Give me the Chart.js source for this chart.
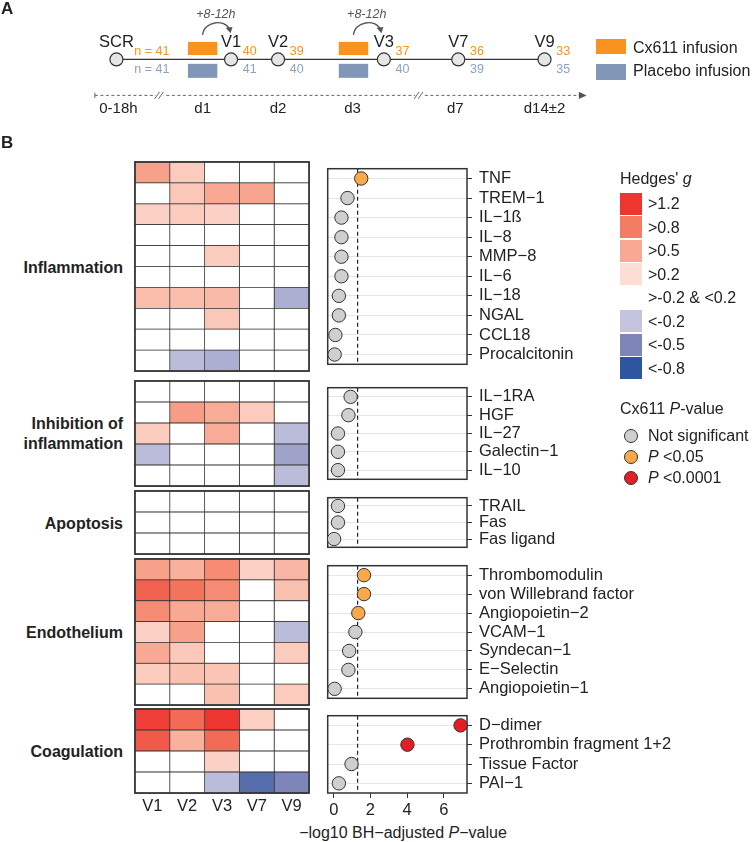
<!DOCTYPE html>
<html lang="en">
<head>
<meta charset="UTF-8">
<title>Cx611 biomarkers</title>
<script src="https://cdn.jsdelivr.net/npm/chart.js"></script>
<style>
    body { margin: 0; background: #fff; font-family: "Liberation Sans", Arial, sans-serif; color: #222; }
    #page { position: relative; width: 754px; height: 842px; overflow: hidden; }
    #page canvas { position: absolute; }
    .txt { position: absolute; white-space: nowrap; font-size: 16px; line-height: 18px; }
    .sw { position: absolute; }
    .dot { position: absolute; width: 12px; height: 12px; border: 1px solid #333; border-radius: 50%; }
</style>
</head>
<body>
<div id="page"></div>
<script>
// ---- panel A: study timeline ----
const timelineVisits = ['SCR', 'V1', 'V2', 'V3', 'V7', 'V9'];
const nCx611 = [41, 40, 39, 37, 36, 33];
const nPlacebo = [41, 41, 40, 40, 39, 35];
const studyDays = ['0-18h', 'd1', 'd2', 'd3', 'd7', 'd14±2'];

// ---- panel B: Hedges' g per visit (V1, V2, V3, V7, V9) and -log10 adjusted P ----
const visits = ['V1', 'V2', 'V3', 'V7', 'V9'];

const inflamLabels = ['TNF', 'TREM−1', 'IL−1ß', 'IL−8', 'MMP−8', 'IL−6', 'IL−18', 'NGAL', 'CCL18', 'Procalcitonin'];
const inflamG = [
    [0.55, 0.3, 0, 0, 0],
    [0, 0.33, 0.5, 0.52, 0],
    [0.27, 0.3, 0.27, 0, 0],
    [0, 0, 0, 0, 0],
    [0, 0, 0.3, 0, 0],
    [0, 0, 0, 0, 0],
    [0.38, 0.38, 0.4, 0, -0.3],
    [0, 0, 0.33, 0, 0],
    [0, 0, 0, 0, 0],
    [0, -0.24, -0.3, 0, 0]
];
const inflamP = [1.5, 0.75, 0.42, 0.42, 0.42, 0.42, 0.28, 0.28, 0.09, 0.05];

const inhibLabels = ['IL−1RA', 'HGF', 'IL−27', 'Galectin−1', 'IL−10'];
const inhibG = [
    [0, 0, 0, 0, 0],
    [0, 0.58, 0.48, 0.3, 0],
    [0.3, 0, 0.48, 0, -0.24],
    [-0.24, 0, 0, 0, -0.36],
    [0, 0, 0, 0, -0.24]
];
const inhibP = [0.92, 0.8, 0.23, 0.23, 0.23];

const apopLabels = ['TRAIL', 'Fas', 'Fas ligand'];
const apopG = [
    [0, 0, 0, 0, 0],
    [0, 0, 0, 0, 0],
    [0, 0, 0, 0, 0]
];
const apopP = [0.23, 0.23, 0.02];

const endoLabels = ['Thrombomodulin', 'von Willebrand factor', 'Angiopoietin−2', 'VCAM−1', 'Syndecan−1', 'E−Selectin', 'Angiopoietin−1'];
const endoG = [
    [0.55, 0.45, 0.7, 0.27, 0.42],
    [0.95, 0.85, 0.7, 0, 0.36],
    [0.7, 0.5, 0.48, 0, 0],
    [0.27, 0.55, 0, 0, -0.24],
    [0.5, 0.32, 0, 0, 0.3],
    [0.3, 0.36, 0.34, 0, 0],
    [0, 0, 0.36, 0, 0.3]
];
const endoP = [1.65, 1.65, 1.34, 1.18, 0.84, 0.8, 0.05];

const coagLabels = ['D−dimer', 'Prothrombin fragment 1+2', 'Tissue Factor', 'PAI−1'];
const coagG = [
    [1.15, 0.9, 1.25, 0.28, 0],
    [1.0, 0.45, 0.9, 0, 0],
    [0, 0, 0.27, 0, 0],
    [0, 0, -0.24, -0.65, -0.5]
];
const coagP = [6.92, 4.02, 0.97, 0.28];

const groups = [
    { name: 'Inflammation', labels: inflamLabels, g: inflamG, p: inflamP },
    { name: 'Inhibition of<br>inflammation', labels: inhibLabels, g: inhibG, p: inhibP },
    { name: 'Apoptosis', labels: apopLabels, g: apopG, p: apopP },
    { name: 'Endothelium', labels: endoLabels, g: endoG, p: endoP },
    { name: 'Coagulation', labels: coagLabels, g: coagG, p: coagP }
];

// layout
const visitPos = [111, 228, 276, 384, 460, 548];
const dayPos = [113, 199, 276, 352, 457, 548];
const infusionPos = [[184, 214], [338, 368]];
const groupTop = [162, 381, 491, 559, 709];
const groupH = [209, 105, 63, 146, 84];

const ORANGE = '#F7931E', BLUE = '#8197B7';
const FONT = '"Liberation Sans", Arial, sans-serif';
Chart.defaults.font.family = FONT;
Chart.defaults.color = '#222';

const page = document.getElementById('page');

function addCanvas(left, top, w, h) {
    const c = document.createElement('canvas');
    c.width = w; c.height = h;
    c.style.left = left + 'px'; c.style.top = top + 'px';
    c.style.width = w + 'px'; c.style.height = h + 'px';
    page.appendChild(c);
    return c;
}

function addText(html, x, cy, align, extra) {
    const d = document.createElement('div');
    d.className = 'txt';
    d.innerHTML = html;
    d.style.top = (cy - 9) + 'px';
    if (align === 'right') d.style.right = (754 - x) + 'px';
    else if (align === 'center') { d.style.left = x + 'px'; d.style.transform = 'translateX(-50%)'; }
    else d.style.left = x + 'px';
    if (extra) d.style.cssText += extra;
    page.appendChild(d);
    return d;
}

function addBox(cls, x, y, w, h, color) {
    const d = document.createElement('div');
    d.className = cls;
    d.style.left = x + 'px'; d.style.top = y + 'px';
    d.style.width = w + 'px'; d.style.height = h + 'px';
    d.style.background = color;
    page.appendChild(d);
}

// colour ramp of the Hedges' g bins
const posStops = [[0.2, [253, 222, 212]], [0.5, [248, 168, 147]], [0.8, [244, 124, 99]], [1.2, [238, 53, 48]]];
const negStops = [[0.2, [196, 196, 222]], [0.5, [126, 134, 185]], [0.8, [47, 85, 160]]];
function cellColor(g) {
    const a = Math.abs(g);
    if (a < 0.2) return '#ffffff';
    const s = g > 0 ? posStops : negStops;
    let c = s[s.length - 1][1];
    for (let i = 0; i < s.length - 1; i++) {
        if (a >= s[i][0] && a < s[i + 1][0]) {
            const t = (a - s[i][0]) / (s[i + 1][0] - s[i][0]);
            c = s[i][1].map((v, k) => Math.round(v + (s[i + 1][1][k] - v) * t));
            break;
        }
    }
    return 'rgb(' + c.join(',') + ')';
}
function dotColor(v) {
    if (v >= 4) return '#E31E24';
    if (v >= 1.301) return '#FAA94A';
    return '#CFCFCF';
}

// ---------- panel A ----------
const timelinePlugin = {
    id: 'timeline',
    afterDatasetsDraw(chart) {
        const { ctx, scales: { x, y } } = chart;
        const px = v => x.getPixelForValue(v), py = v => y.getPixelForValue(v);
        ctx.save();
        // visit names
        ctx.font = '16.5px ' + FONT; ctx.fillStyle = '#222'; ctx.textAlign = 'center'; ctx.textBaseline = 'alphabetic';
        timelineVisits.forEach((v, i) => ctx.fillText(v, px(visitPos[i]), py(45)));
        // n per arm
        ctx.font = '12.5px ' + FONT;
        timelineVisits.forEach((v, i) => {
            const first = i === 0;
            ctx.textAlign = first ? 'right' : 'left';
            const xx = first ? px(165) : px(visitPos[i] + 12);
            ctx.fillStyle = ORANGE;
            ctx.fillText(first ? 'n = ' + nCx611[i] : String(nCx611[i]), xx, py(54));
            ctx.fillStyle = '#8DA1C3';
            ctx.fillText(first ? 'n = ' + nPlacebo[i] : String(nPlacebo[i]), xx, py(75));
        });
        // infusion boxes and +8-12h arrows
        infusionPos.forEach(([a, b]) => {
            ctx.fillStyle = ORANGE;
            ctx.fillRect(px(a), py(39), px(b) - px(a), py(54) - py(39));
            ctx.fillStyle = BLUE;
            ctx.fillRect(px(a), py(64), px(b) - px(a), py(80) - py(64));
            const c = (a + b) / 2;
            ctx.strokeStyle = '#555'; ctx.lineWidth = 1.4;
            ctx.beginPath();
            ctx.moveTo(px(c), py(31));
            ctx.bezierCurveTo(px(c + 1), py(15), px(c + 23), py(13), px(c + 27), py(24));
            ctx.stroke();
            ctx.fillStyle = '#555';
            ctx.beginPath();
            ctx.moveTo(px(c + 23.5), py(23)); ctx.lineTo(px(c + 30.5), py(22)); ctx.lineTo(px(c + 28.5), py(29));
            ctx.closePath(); ctx.fill();
            ctx.font = 'italic 12.5px ' + FONT; ctx.textAlign = 'center'; ctx.textBaseline = 'middle';
            ctx.fillText('+8-12h', px(c + 13.5), py(8));
        });
        // time axis
        ctx.strokeStyle = '#666'; ctx.lineWidth = 1;
        ctx.setLineDash([3, 2.5]);
        ctx.beginPath(); ctx.moveTo(px(89), py(100)); ctx.lineTo(px(584), py(100)); ctx.stroke();
        ctx.setLineDash([]);
        ctx.beginPath(); ctx.moveTo(px(89), py(97)); ctx.lineTo(px(89), py(103)); ctx.stroke();
        ctx.fillStyle = '#555';
        ctx.beginPath(); ctx.moveTo(px(583), py(96)); ctx.lineTo(px(591), py(100)); ctx.lineTo(px(583), py(104)); ctx.closePath(); ctx.fill();
        [155, 420].forEach(b => {
            ctx.fillStyle = '#fff'; ctx.fillRect(px(b - 4), py(98), 8, 4);
            ctx.beginPath();
            ctx.moveTo(px(b - 5), py(104)); ctx.lineTo(px(b), py(96));
            ctx.moveTo(px(b - 1), py(104)); ctx.lineTo(px(b + 4), py(96));
            ctx.stroke();
        });
        ctx.font = '15px ' + FONT; ctx.fillStyle = '#222'; ctx.textAlign = 'center'; ctx.textBaseline = 'alphabetic';
        studyDays.forEach((d, i) => ctx.fillText(d, px(dayPos[i]), py(120)));
        ctx.restore();
    }
};

new Chart(addCanvas(0, 0, 754, 125), {
    type: 'scatter',
    data: {
        datasets: [{
            data: visitPos.map(v => ({ x: v, y: 59 })),
            showLine: true,
            borderColor: '#333',
            borderWidth: 1.2,
            pointRadius: 6.5,
            pointBackgroundColor: '#e6e6e6',
            pointBorderColor: '#333',
            pointBorderWidth: 1.2,
            clip: false
        }]
    },
    options: {
        responsive: false, animation: false, events: [],
        layout: { padding: 0 },
        plugins: { legend: { display: false }, tooltip: { enabled: false } },
        scales: {
            x: { type: 'linear', min: 0, max: 754, display: false },
            y: { type: 'linear', min: 0, max: 125, reverse: true, display: false }
        }
    },
    plugins: [timelinePlugin]
});

addText('<b>A</b>', 1, 9, 'left', 'font-size:17px;');
addBox('sw', 596, 39, 30, 15, ORANGE);
addBox('sw', 596, 64, 30, 16, BLUE);
addText('Cx611 infusion', 633, 48);
addText('Placebo infusion', 633, 71);

// ---------- panel B ----------
const framePlugin = {
    id: 'frame',
    beforeDatasetsDraw(chart, args, opts) {
        const { ctx, chartArea: a } = chart;
        ctx.save();
        if (opts.threshold !== undefined) {
            const xx = chart.scales.x.getPixelForValue(opts.threshold);
            ctx.strokeStyle = '#222'; ctx.lineWidth = 1.2; ctx.setLineDash([4, 3]);
            ctx.beginPath(); ctx.moveTo(xx, a.top); ctx.lineTo(xx, a.bottom); ctx.stroke();
            ctx.setLineDash([]);
        }
        ctx.strokeStyle = '#333'; ctx.lineWidth = 1.5;
        ctx.strokeRect(a.left, a.top, a.right - a.left, a.bottom - a.top);
        ctx.restore();
    },
    afterDatasetsDraw(chart, args, opts) {
        if (!opts.heat) return;
        const { ctx, chartArea: a } = chart;
        ctx.save();
        ctx.strokeStyle = '#333'; ctx.lineWidth = 1.5;
        ctx.strokeRect(a.left, a.top, a.right - a.left, a.bottom - a.top);
        ctx.restore();
    }
};

const noPad = s => { s.paddingTop = 0; s.paddingBottom = 0; s.paddingLeft = 0; s.paddingRight = 0; };

groups.forEach((grp, gi) => {
    const last = gi === groups.length - 1;
    const top = groupTop[gi], h = groupH[gi];
    const axisH = last ? 30 : 0;

    // heatmap
    new Chart(addCanvas(134, top - 1, 176, h + 2 + axisH), {
        type: 'bar',
        data: {
            labels: grp.labels,
            datasets: visits.map((v, j) => ({
                label: v,
                data: grp.labels.map(() => 1),
                backgroundColor: grp.g.map(r => cellColor(r[j])),
                borderColor: '#333',
                borderWidth: 0.75,
                borderSkipped: false,
                barPercentage: 1,
                categoryPercentage: 1
            }))
        },
        options: {
            indexAxis: 'y', responsive: false, animation: false, events: [],
            layout: { padding: 1 },
            plugins: { legend: { display: false }, tooltip: { enabled: false }, frame: { heat: true } },
            scales: {
                x: {
                    type: 'linear', stacked: true, min: 0, max: 5, display: last,
                    grid: { display: false, drawTicks: false }, border: { display: false },
                    ticks: {
                        stepSize: 0.5, autoSkip: false, maxRotation: 0, padding: 4,
                        font: { size: 16.5 }, color: '#222',
                        callback: v => (Math.abs(v % 1 - 0.5) < 1e-6 ? visits[Math.floor(v)] : '')
                    },
                    afterFit: s => { s.height = axisH; noPad(s); }
                },
                y: { type: 'category', stacked: true, display: false }
            }
        },
        plugins: [framePlugin]
    });

    // -log10 adjusted P dot plot
    new Chart(addCanvas(320, top - 1, 387, h + 2 + axisH), {
        type: 'line',
        data: {
            labels: grp.labels,
            datasets: [{
                data: grp.p,
                showLine: false,
                pointRadius: 6.7,
                pointBackgroundColor: grp.p.map(dotColor),
                pointBorderColor: '#333',
                pointBorderWidth: 1,
                clip: false
            }]
        },
        options: {
            indexAxis: 'y', responsive: false, animation: false, events: [],
            layout: { padding: { left: 1, top: 1, bottom: 1, right: 0 } },
            plugins: { legend: { display: false }, tooltip: { enabled: false }, frame: { threshold: 1.301 } },
            scales: {
                x: {
                    type: 'linear', min: -0.33, max: 7.27, display: last,
                    grid: { drawOnChartArea: false, drawTicks: true, tickLength: 5, tickColor: '#333', color: '#333' },
                    border: { display: false },
                    ticks: { stepSize: 2, includeBounds: false, padding: 3, font: { size: 16.5 }, color: '#222' },
                    afterFit: s => { s.height = axisH; noPad(s); }
                },
                y: {
                    type: 'category', position: 'right', offset: true,
                    grid: { color: '#e6e6e6', lineWidth: 1, drawTicks: true, tickLength: 5, tickColor: '#333' },
                    border: { display: false },
                    ticks: { padding: 7, font: { size: 16.5 }, color: '#222', autoSkip: false },
                    afterFit: s => { s.width = 240; noPad(s); }
                }
            }
        },
        plugins: [framePlugin]
    });

    addText('<b>' + grp.name + '</b>', 123, top + h / 2, 'right', 'text-align:right; line-height:20px;' + (gi === 1 ? 'top:' + (top + h / 2 - 20) + 'px;' : ''));
});

addText('<b>B</b>', 1, 143, 'left', 'font-size:17px;');
addText('−log10 BH−adjusted <i>P</i>−value', 403, 833, 'center');

// legends of panel B
addText('Hedges\' <i>g</i>', 620, 179);
const binLabels = ['>1.2', '>0.8', '>0.5', '>0.2', '>-0.2 &amp; <0.2', '<-0.2', '<-0.5', '<-0.8'];
const binValues = [1.3, 0.8, 0.5, 0.2, 0, -0.2, -0.5, -0.8];
binLabels.forEach((l, i) => {
    const t = 192.5 + i * 23.5;
    if (binValues[i] !== 0) addBox('sw', 620, t, 22, 22.3, cellColor(binValues[i]));
    addText(l, 648, t + 11.5);
});
addText('Cx611 <i>P</i>-value', 620, 409);
const sigLabels = ['Not significant', '<i>P</i> &lt;0.05', '<i>P</i> &lt;0.0001'];
const sigValues = [0, 2, 5];
sigLabels.forEach((l, i) => {
    const cy = 436 + i * 21;
    addBox('dot', 624, cy - 7, 12, 12, dotColor(sigValues[i]));
    addText(l, 648, cy);
});
</script>
</body>
</html>
